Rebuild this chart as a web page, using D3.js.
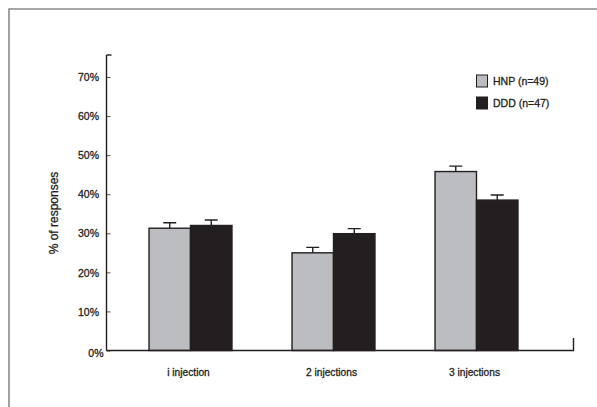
<!DOCTYPE html>
<html>
<head>
<meta charset="utf-8">
<script src="https://cdn.jsdelivr.net/npm/d3@7"></script>
<style>
  html, body { margin: 0; padding: 0; background: #fff; }
  svg text { font-family: "Liberation Sans", Arial, sans-serif; fill: #231f20; stroke: #231f20; stroke-width: 0.3px; }
</style>
</head>
<body>
<svg id="chart" width="597" height="407"></svg>
<script>
// Share of responses by number of injections, per group
const categories = ["i injection", "2 injections", "3 injections"];
const seriesNames = ["HNP (n=49)", "DDD (n=47)"];
const hnpValues = [31.3, 25.0, 45.8];
const dddValues = [32.0, 29.9, 38.5];
const hnpErrors = [1.4, 1.4, 1.4];
const dddErrors = [1.4, 1.3, 1.3];
const yTicks = [0, 10, 20, 30, 40, 50, 60, 70];

const colors = ["#bcbdc0", "#231f20"];
const svg = d3.select("#chart");

// outer frame
svg.append("path")
  .attr("d", "M9,407 L9,9 L597,9")
  .attr("fill", "none")
  .attr("stroke", "#8a8a8a")
  .attr("stroke-width", 1.6);

const y = d3.scaleLinear().domain([0, 70]).range([350.5, 77]);
const x0 = d3.scaleBand().domain(categories).range([119, 548]).paddingInner(0.42).paddingOuter(0.21);
const x1 = d3.scaleBand().domain(seriesNames).range([0, x0.bandwidth()]);

const rows = categories.map((c, i) => ({
  cat: c,
  vals: [
    { s: seriesNames[0], v: hnpValues[i], e: hnpErrors[i], k: 0 },
    { s: seriesNames[1], v: dddValues[i], e: dddErrors[i], k: 1 }
  ]
}));

// bars
const g = svg.append("g");
const groups = g.selectAll("g.grp").data(rows).join("g")
  .attr("class", "grp")
  .attr("transform", d => `translate(${x0(d.cat)},0)`);

// error bars (upper half only)
groups.selectAll("path.err").data(d => d.vals).join("path")
  .attr("class", "err")
  .attr("d", d => {
    const cx = x1(d.s) + x1.bandwidth() / 2;
    const top = y(d.v + d.e);
    return `M${cx},${y(d.v)} L${cx},${top} M${cx - 6.5},${top} L${cx + 6.5},${top}`;
  })
  .attr("stroke", "#231f20")
  .attr("stroke-width", 1.4)
  .attr("fill", "none");

groups.selectAll("rect").data(d => d.vals).join("rect")
  .attr("x", d => x1(d.s))
  .attr("y", d => y(d.v))
  .attr("width", x1.bandwidth())
  .attr("height", d => y(0) - y(d.v))
  .attr("fill", d => colors[d.k])
  .attr("stroke", "#231f20")
  .attr("stroke-width", 1.4);

// y axis
const yAxis = d3.axisLeft(y).tickValues(yTicks).tickSize(0).tickFormat(d => d + "%");
const ya = svg.append("g").attr("transform", "translate(106.5,0)");
ya.call(yAxis);
ya.select(".domain").remove();
ya.append("line").attr("x1", 0).attr("x2", 0).attr("y1", 55).attr("y2", y(0))
  .attr("stroke", "#231f20").attr("stroke-width", 1.4);
ya.append("line").attr("x1", 0).attr("x2", 5).attr("y1", 55).attr("y2", 55)
  .attr("stroke", "#231f20").attr("stroke-width", 1.4);
ya.selectAll(".tick").append("line")
  .attr("x1", 0).attr("x2", 4)
  .attr("stroke", "#555").attr("stroke-width", 1);
ya.selectAll(".tick text")
  .attr("x", d => d === 0 ? -3 : -7.5)
  .attr("dy", d => d === 0 ? "0.6em" : "0.35em")
  .style("font-size", "10.5px");

// x axis baseline with closing tick at the right
svg.append("path")
  .attr("d", `M106.5,${y(0)} L573.5,${y(0)} L573.5,${y(0) - 12.5}`)
  .attr("fill", "none")
  .attr("stroke", "#231f20")
  .attr("stroke-width", 1.4);

// category labels
svg.append("g").selectAll("text").data(categories).join("text")
  .attr("x", d => x0(d) + x0.bandwidth() / 2 - 2)
  .attr("y", 372)
  .attr("dy", "0.35em")
  .attr("text-anchor", "middle")
  .style("font-size", "10.2px")
  .text(d => d);

// y title
svg.append("text")
  .attr("transform", "translate(54,213) rotate(-90)")
  .attr("text-anchor", "middle")
  .attr("dy", "0.35em")
  .style("font-size", "12px")
  .text("% of responses");

// legend
const leg = svg.append("g").attr("transform", "translate(476.5,75)");
const li = leg.selectAll("g").data(seriesNames).join("g")
  .attr("transform", (d, i) => `translate(0,${i * 22})`);
li.append("rect")
  .attr("width", 11).attr("height", 12)
  .attr("fill", (d, i) => colors[i])
  .attr("stroke", "#231f20").attr("stroke-width", 1);
li.append("text")
  .attr("x", 16.5).attr("y", 6.5).attr("dy", "0.35em")
  .style("font-size", "10.5px")
  .text(d => d);
</script>
</body>
</html>
